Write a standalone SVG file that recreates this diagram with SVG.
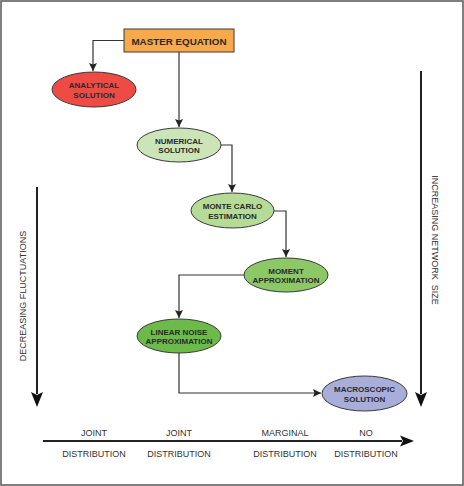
<svg xmlns="http://www.w3.org/2000/svg" width="464" height="486" viewBox="0 0 464 486">
<style>
.node{stroke:#3a3a3a;stroke-width:1}
.nt{font-family:"Liberation Sans",Arial,sans-serif;font-weight:bold;font-size:8px;fill:#2a2a2a;text-anchor:middle}
.lab{font-family:"Liberation Sans",Arial,sans-serif;font-size:9px;fill:#333;text-anchor:middle}
.conn{fill:none;stroke:#333;stroke-width:1.2}
.big{fill:none;stroke:#222;stroke-width:2}
</style>
<defs>
<marker id="ah" markerUnits="userSpaceOnUse" markerWidth="10" markerHeight="10" refX="8" refY="4" orient="auto">
<path d="M0,0 L8,4 L0,8 L1.5,4 z" fill="#222"/>
</marker>
</defs>
<rect x="1" y="1" width="462" height="484" fill="#fff" stroke="#555" stroke-width="1.5"/>
<g id="connectors">
<path class="conn" d="M124,40.5 H93 V71" marker-end="url(#ah)"/>
<path class="conn" d="M179,52 V127" marker-end="url(#ah)"/>
<path class="conn" d="M221,145 H232 V192" marker-end="url(#ah)"/>
<path class="conn" d="M274,211 H286 V257" marker-end="url(#ah)"/>
<path class="conn" d="M244,275 H179 V318" marker-end="url(#ah)"/>
<path class="conn" d="M179,353 V393 H321" marker-end="url(#ah)"/>
</g>
<g id="master">
<rect class="node" x="124" y="29" width="110" height="23" fill="#F7A94B"/>
<text class="nt" x="179" y="44.5" style="font-size:9.8px">MASTER EQUATION</text>
</g>
<g id="analytical">
<ellipse class="node" cx="94" cy="89.5" rx="42" ry="17.5" fill="#EF4B45"/>
<text class="nt" x="94" y="88">ANALYTICAL</text>
<text class="nt" x="94" y="97.5">SOLUTION</text>
</g>
<g id="numerical">
<ellipse class="node" cx="179" cy="145" rx="42" ry="17" fill="#CCE5B8"/>
<text class="nt" x="179" y="143.5">NUMERICAL</text>
<text class="nt" x="179" y="153">SOLUTION</text>
</g>
<g id="montecarlo">
<ellipse class="node" cx="232.5" cy="210.5" rx="41.5" ry="17.5" fill="#B6DB97"/>
<text class="nt" x="232.5" y="209">MONTE CARLO</text>
<text class="nt" x="232.5" y="218.5">ESTIMATION</text>
</g>
<g id="moment">
<ellipse class="node" cx="286" cy="275" rx="42" ry="17" fill="#8CC865"/>
<text class="nt" x="286" y="273.5">MOMENT</text>
<text class="nt" x="286" y="283">APPROXIMATION</text>
</g>
<g id="linearnoise">
<ellipse class="node" cx="179" cy="336" rx="42" ry="17" fill="#6CBB4A"/>
<text class="nt" x="179" y="334.5">LINEAR NOISE</text>
<text class="nt" x="179" y="344">APPROXIMATION</text>
</g>
<g id="macroscopic">
<ellipse class="node" cx="364.5" cy="393.5" rx="42.5" ry="17.5" fill="#A9ADD9"/>
<text class="nt" x="364.5" y="392">MACROSCOPIC</text>
<text class="nt" x="364.5" y="401.5">SOLUTION</text>
</g>
<g id="axes">
<line class="big" x1="37" y1="187" x2="37" y2="394"/>
<polygon points="31,392 37,395 43,392 37,407" fill="#111"/>
<text class="lab" transform="translate(26,296) rotate(-90)">DECREASING FLUCTUATIONS</text>
<line class="big" x1="421" y1="71" x2="421" y2="394"/>
<polygon points="415,392 421,395 427,392 421,407" fill="#111"/>
<text class="lab" xml:space="preserve" transform="translate(432,240) rotate(90)">INCREASING NETWORK  SIZE</text>
<line class="big" x1="43" y1="441" x2="402" y2="441"/>
<polygon points="400,435.5 403,441 400,446.5 414,441" fill="#111"/>
<text class="lab" x="94" y="436">JOINT</text>
<text class="lab" x="179" y="436">JOINT</text>
<text class="lab" x="285" y="436">MARGINAL</text>
<text class="lab" x="366" y="436">NO</text>
<text class="lab" x="94" y="457">DISTRIBUTION</text>
<text class="lab" x="179" y="457">DISTRIBUTION</text>
<text class="lab" x="285" y="457">DISTRIBUTION</text>
<text class="lab" x="366" y="457">DISTRIBUTION</text>
</g>
</svg>
